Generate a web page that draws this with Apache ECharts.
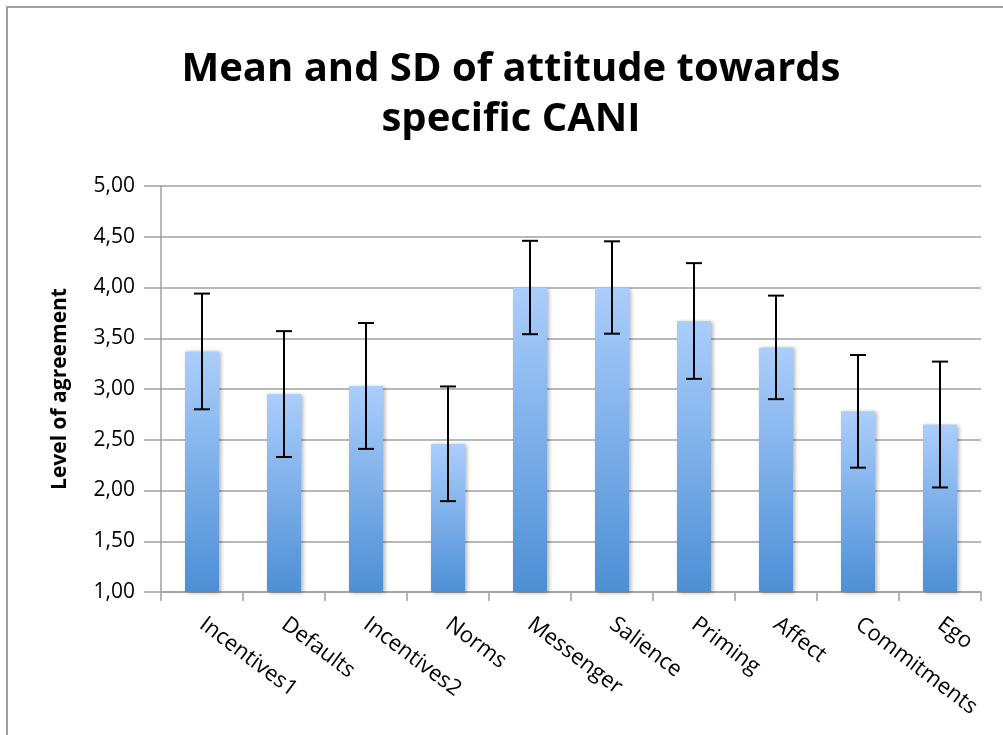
<!DOCTYPE html>
<html>
<head>
<meta charset="utf-8">
<script src="https://cdn.jsdelivr.net/npm/echarts@6/dist/echarts.min.js"></script>
<style>
html,body{margin:0;padding:0;background:#fff;}
#chart{width:1003px;height:735px;}
</style>
</head>
<body>
<div id="chart"></div>
<script>
const categories = ['Incentives1','Defaults','Incentives2','Norms','Messenger','Salience','Priming','Affect','Commitments','Ego'];
const means = [3.37, 2.95, 3.03, 2.46, 4.00, 4.00, 3.67, 3.41, 2.78, 2.65];
const sds = [0.57, 0.62, 0.62, 0.565, 0.46, 0.455, 0.57, 0.51, 0.555, 0.62];
const yTicks = [1, 1.5, 2, 2.5, 3, 3.5, 4, 4.5, 5];

const chart = echarts.init(document.getElementById('chart'), null, {renderer: 'canvas'});
const font = '"Open Sans", "Noto Sans", sans-serif';
const errData = means.map((m, i) => [i, m - sds[i], m + sds[i]]);

chart.setOption({
  backgroundColor: '#fff',
  animation: false,
  graphic: [{
    type: 'rect',
    shape: {x: 7, y: 7, width: 1100, height: 900},
    style: {fill: 'none', stroke: '#a0a0a0', lineWidth: 2}
  }],
  title: {
    text: 'Mean and SD of attitude towards\nspecific CANI',
    left: 506,
    top: 40,
    textAlign: 'center',
    textStyle: {fontFamily: font, fontWeight: 'bold', fontSize: 40, lineHeight: 50, color: '#000'}
  },
  grid: {left: 161, right: 22, top: 186, bottom: 143, containLabel: false},
  xAxis: {
    type: 'category',
    data: categories,
    boundaryGap: true,
    axisLine: {lineStyle: {color: '#a0a0a0', width: 1.5}},
    axisTick: {show: true, length: 9, alignWithLabel: false, lineStyle: {color: '#a0a0a0', width: 1.5}},
    axisLabel: {interval: 0, rotate: -37, margin: 30, fontFamily: font, fontSize: 22, color: '#000'}
  },
  yAxis: {
    type: 'value',
    min: 1,
    max: 5,
    interval: 0.5,
    name: 'Level of agreement',
    nameLocation: 'middle',
    nameGap: 90,
    nameRotate: 90,
    nameTextStyle: {fontFamily: font, fontWeight: 'bold', fontSize: 21, color: '#000'},
    axisLine: {show: true, lineStyle: {color: '#a0a0a0', width: 1.5}},
    axisTick: {show: true, length: 17, lineStyle: {color: '#a0a0a0', width: 1.5}},
    axisLabel: {
      margin: 26, fontFamily: font, fontSize: 21, color: '#000',
      formatter: v => yTicks.includes(v) ? v.toFixed(2).replace('.', ',') : ''
    },
    splitLine: {lineStyle: {color: '#a0a0a0', width: 1.5}}
  },
  series: [{
    type: 'bar',
    data: means,
    barWidth: 34,
    itemStyle: {
      color: new echarts.graphic.LinearGradient(0, 0, 0, 1, [
        {offset: 0, color: '#abcefc'},
        {offset: 1, color: '#4d8fd5'}
      ]),
      shadowBlur: 4,
      shadowColor: 'rgba(0,0,0,0.3)',
      shadowOffsetX: 2,
      shadowOffsetY: 1
    }
  }, {
    type: 'custom',
    data: errData,
    z: 10,
    renderItem: function (params, api) {
      const x = api.value(0);
      const lo = api.coord([x, api.value(1)]);
      const hi = api.coord([x, api.value(2)]);
      const hw = 8;
      const style = {stroke: '#000', lineWidth: 2};
      return {
        type: 'group',
        children: [
          {type: 'line', shape: {x1: hi[0], y1: hi[1], x2: lo[0], y2: lo[1]}, style: style},
          {type: 'line', shape: {x1: hi[0] - hw, y1: hi[1], x2: hi[0] + hw, y2: hi[1]}, style: style},
          {type: 'line', shape: {x1: lo[0] - hw, y1: lo[1], x2: lo[0] + hw, y2: lo[1]}, style: style}
        ]
      };
    }
  }]
});
</script>
</body>
</html>
